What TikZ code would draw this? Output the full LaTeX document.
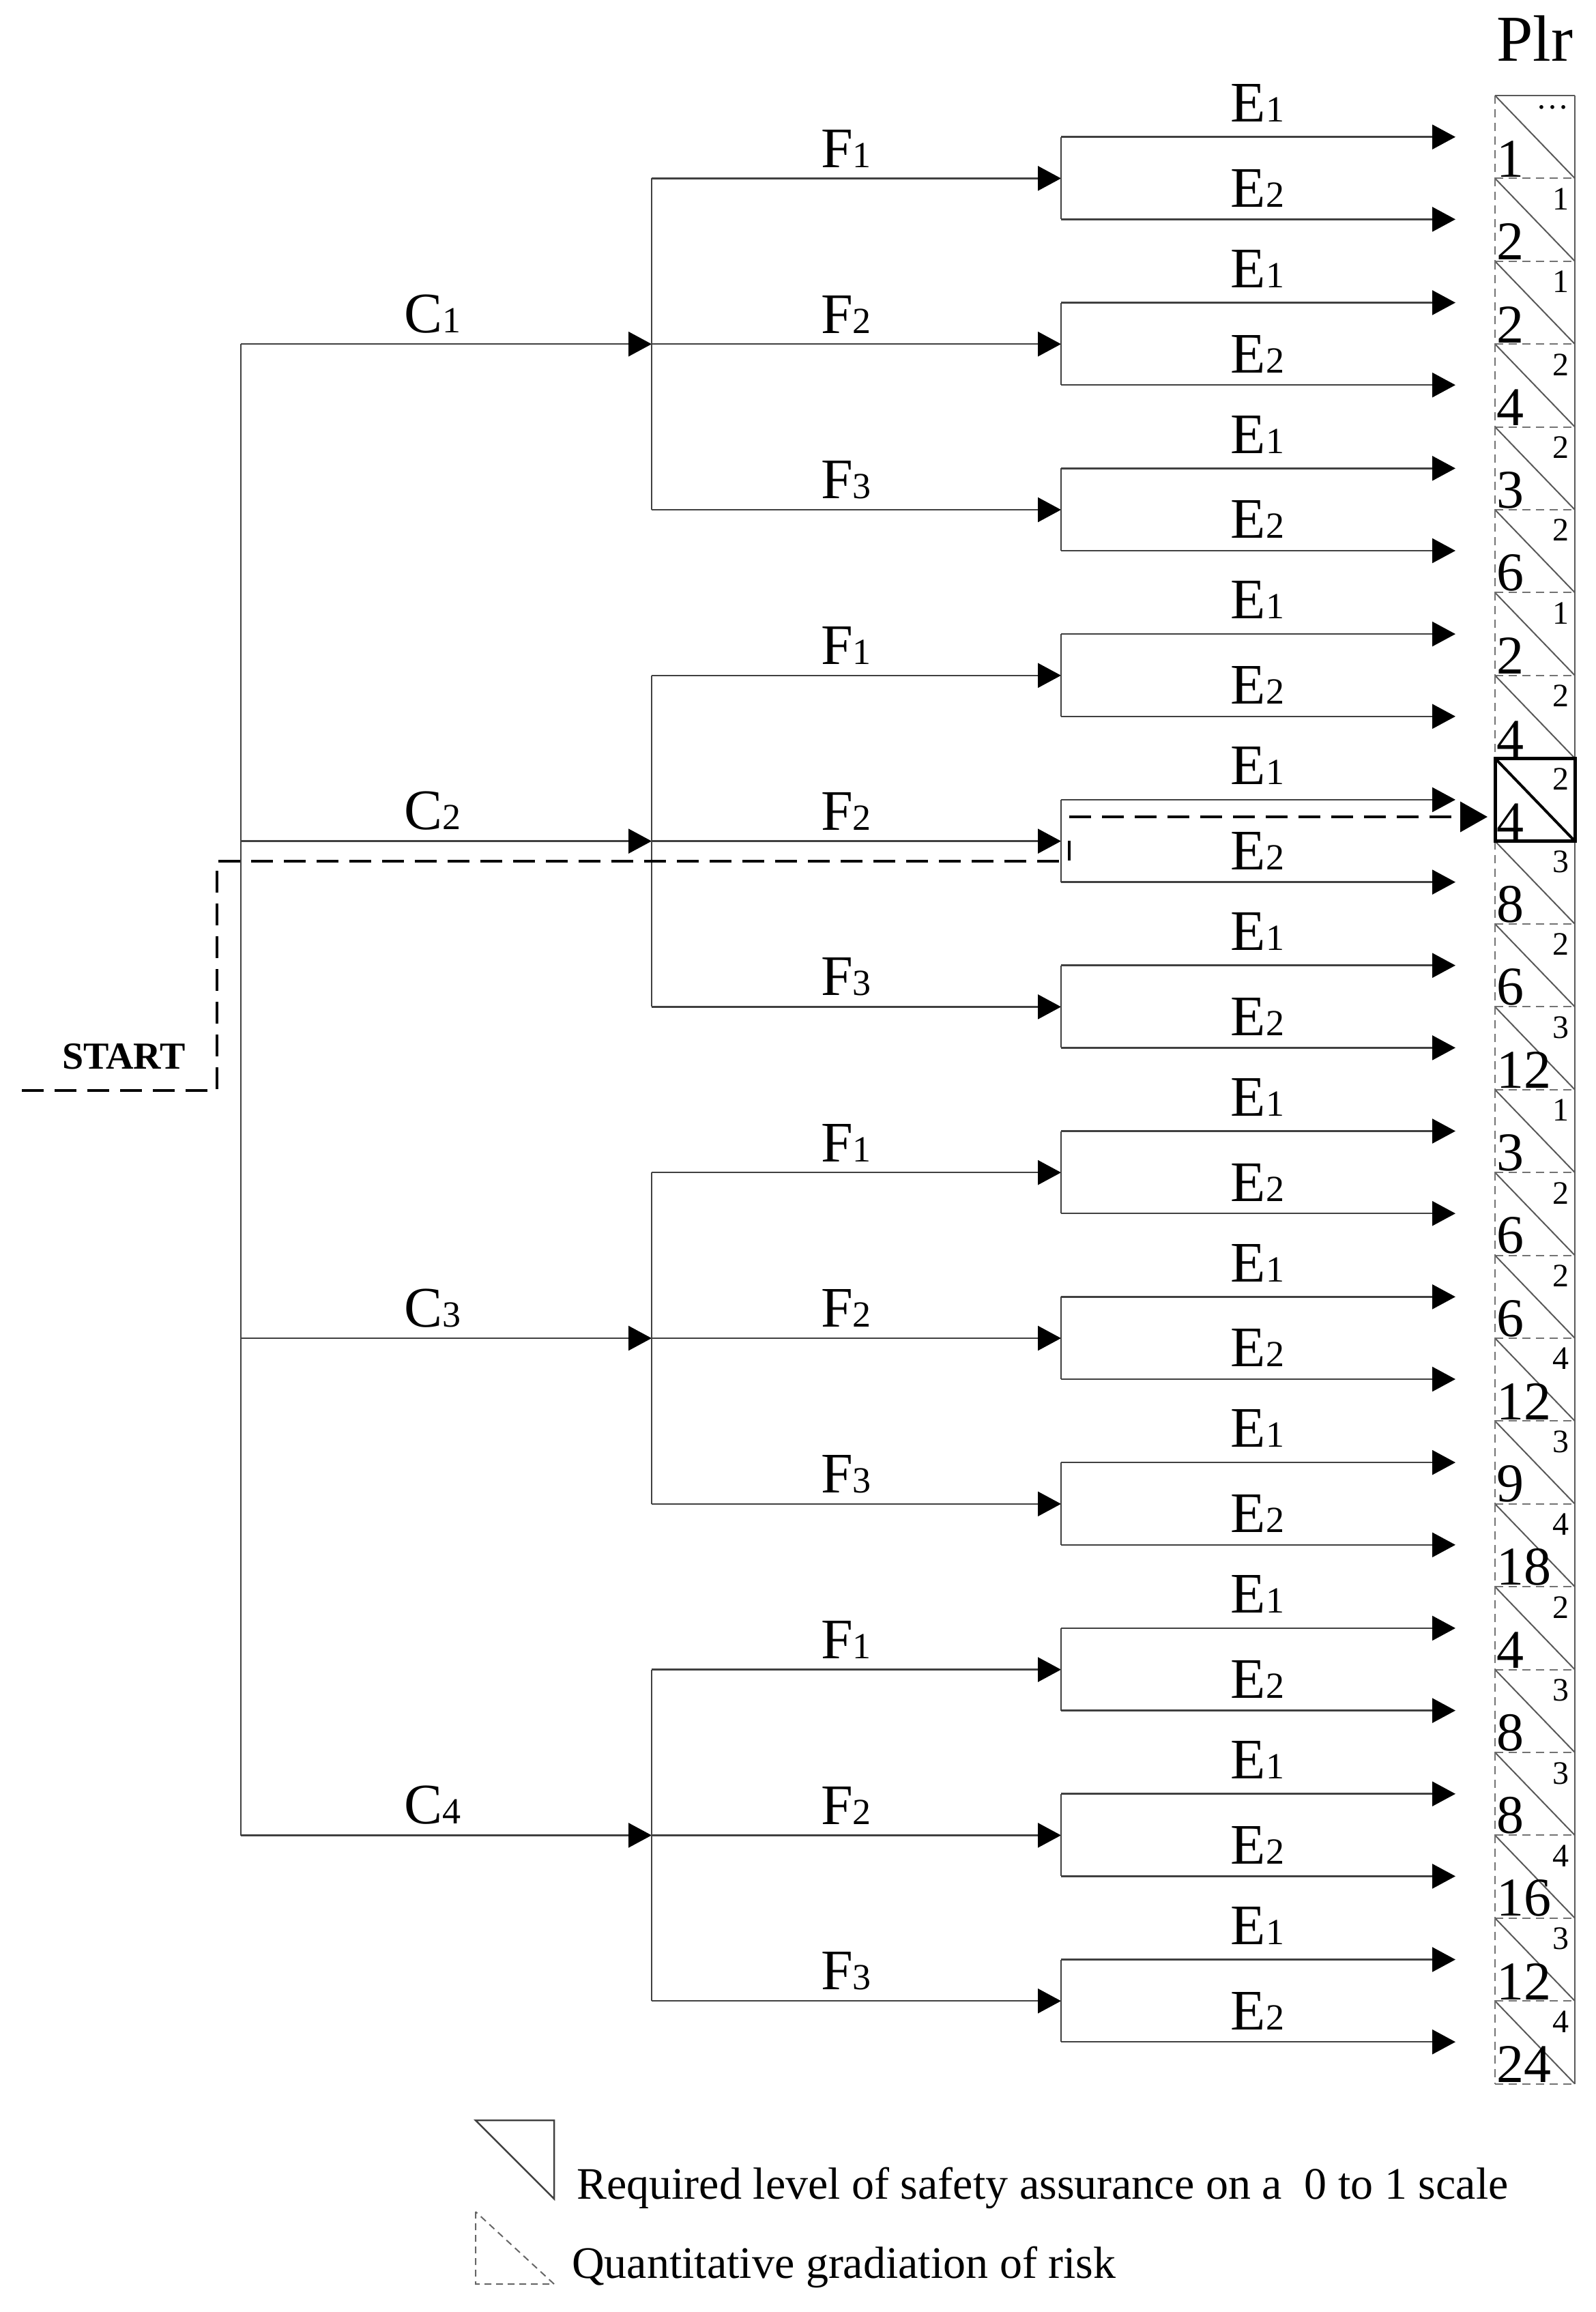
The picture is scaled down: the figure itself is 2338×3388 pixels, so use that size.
\documentclass[tikz,border=0pt]{standalone}
\usepackage{fontspec}
\setmainfont{Liberation Serif}
\usetikzlibrary{arrows.meta}
\begin{document}
\begin{tikzpicture}[x=1pt,y=-1pt,
  br/.style={line width=2.5pt,black!75},
  arr/.style={br,-{Triangle[length=34pt,width=36pt,black]}},
  lbl/.style={anchor=south,inner sep=0pt,font=\fontsize{84}{84}\selectfont},
  cell/.style={line width=2pt,black!65},
  dcell/.style={line width=2pt,black!55,dash pattern=on 12pt off 8pt},
  big/.style={anchor=south west,inner sep=0pt,font=\fontsize{80}{80}\selectfont},
  small/.style={anchor=north east,inner sep=0pt,font=\fontsize{48}{48}\selectfont},
  path/.style={line width=4.5pt,black,dash pattern=on 32pt off 16pt}]
\newcommand{\lb}[2]{#1{\fontsize{54}{54}\selectfont #2}}
\useasboundingbox (0,0) rectangle (2338,3388);
% C level
\coordinate (cv1) at (353,504);
\coordinate (cv4) at (353,2690);
\draw[br] (cv1) -- (cv4);
\foreach \g in {0,1,2,3}{
  \pgfmathsetmacro{\yc}{504.2+728.4*\g}
  \coordinate (c\g) at (353,\yc);
  \coordinate (ct\g) at (955,\yc);
  \draw[arr] (c\g) -- (ct\g);
  \pgfmathtruncatemacro{\gn}{\g+1}
  \node[lbl] (cl\g) at (634,\yc-16) {\lb{C}{\gn}};
  \pgfmathsetmacro{\ya}{261.4+242.8*(3*\g)}
  \pgfmathsetmacro{\yb}{261.4+242.8*(3*\g+2)}
  \coordinate (fa\g) at (955,\ya);
  \coordinate (fb\g) at (955,\yb);
  \draw[br] (fa\g) -- (fb\g);
  \foreach \f in {0,1,2}{
    \pgfmathtruncatemacro{\pp}{3*\g+\f}
    \pgfmathsetmacro{\yf}{261.4+242.8*\pp}
    \pgfmathtruncatemacro{\fn}{\f+1}
    \coordinate (f\pp) at (955,\yf);
    \coordinate (ft\pp) at (1555,\yf);
    \draw[arr] (f\pp) -- (ft\pp);
    \node[lbl] (fl\pp) at (1240,\yf-16) {\lb{F}{\fn}};
    \pgfmathsetmacro{\ye}{200.7+242.8*\pp}
    \pgfmathsetmacro{\yd}{321.4+242.8*\pp}
    \coordinate (ea\pp) at (1555,\ye);
    \coordinate (eb\pp) at (1555,\yd);
    \coordinate (eta\pp) at (2133,\ye);
    \coordinate (etb\pp) at (2133,\yd);
    \draw[br] (ea\pp) -- (eb\pp);
    \draw[arr] (ea\pp) -- (eta\pp);
    \draw[arr] (eb\pp) -- (etb\pp);
    \node[lbl] (ela\pp) at (1843,\ye-22) {\lb{E}{1}};
    \node[lbl] (elb\pp) at (1843,\yd-18) {\lb{E}{2}};
  }
}
% column
\node[anchor=south,inner sep=0pt,font=\fontsize{96}{96}\selectfont] (plr) at (2249,90) {Plr};
\foreach \b/\s [count=\k from 0] in {1/{\dots},2/1,2/1,4/2,3/2,6/2,2/1,4/2,4/2,8/3,6/2,12/3,3/1,6/2,6/2,12/4,9/3,18/4,4/2,8/3,8/3,16/4,12/3,24/4}{
  \pgfmathsetmacro{\yt}{140+121.4*\k}
  \pgfmathsetmacro{\yo}{140+121.4*(\k+1)}
  \coordinate (tl\k) at (2191,\yt);
  \coordinate (tr\k) at (2308,\yt);
  \coordinate (bl\k) at (2191,\yo);
  \coordinate (brr\k) at (2308,\yo);
  \draw[cell] (tl\k) -- (brr\k);
  \draw[cell] (tr\k) -- (brr\k);
  \draw[dcell] (tl\k) -- (bl\k);
  \draw[dcell] (bl\k) -- (brr\k);
  \node[big] (n\k) at (2193,\yo-2) {\b};
  \node[small] (s\k) at (2300,\yt+14) {\s};
}
\draw[cell] (tl0) -- (tr0);
\draw[line width=5pt,black] (tl8) rectangle (brr8);
\draw[line width=4pt,black] (tl8) -- (brr8);
% start path
\node[anchor=west,inner sep=0pt,font=\fontsize{56}{56}\selectfont\bfseries] (start) at (91,1548) {START};
\coordinate (p0) at (32,1598);
\coordinate (p1) at (318,1598);
\coordinate (p2) at (318,1262);
\coordinate (p3) at (1567,1262);
\coordinate (p4) at (1567,1232);
\coordinate (q0) at (1567,1197);
\coordinate (q1) at (2180,1197);
\draw[path] (p0) -- (p1) -- (p2) -- (p3) -- (p4);
\draw[path,-{Triangle[length=40pt,width=44pt]}] (q0) -- (q1);
% legend
\coordinate (la) at (697,3107); \coordinate (lb) at (812,3107); \coordinate (lc) at (812,3222);
\draw[line width=2.5pt,black!75] (la) -- (lb) -- (lc) -- cycle;
\coordinate (ld) at (697,3241); \coordinate (le) at (697,3347); \coordinate (lf) at (812,3347);
\draw[line width=2pt,black!60,dash pattern=on 10pt off 7pt] (ld) -- (le) -- (lf) -- cycle;
\node[anchor=base west,inner sep=0pt,font=\fontsize{66}{66}\selectfont] (t1) at (845,3222) {Required level of safety assurance on a \ 0 to 1 scale};
\node[anchor=base west,inner sep=0pt,font=\fontsize{66}{66}\selectfont] (t2) at (838,3338) {Quantitative gradiation of risk};
\end{tikzpicture}
\end{document}
